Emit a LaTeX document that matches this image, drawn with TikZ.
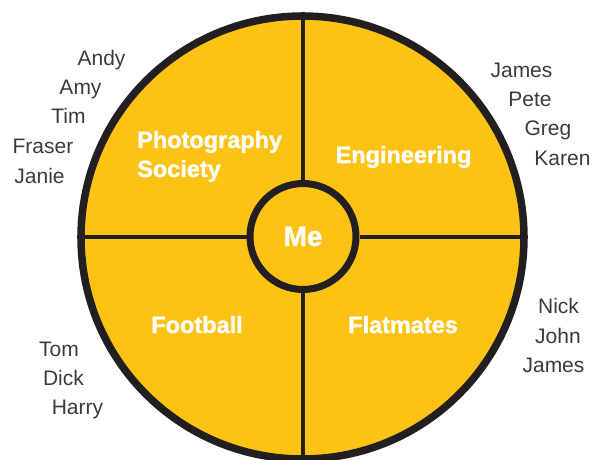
\documentclass[tikz,border=0pt]{standalone}
\usepackage{fontspec}
\setmainfont{Liberation Sans}
\newfontface\heavyfont{Liberation Sans Bold}[FakeBold=1.2]
\usepackage{tikz}
\usetikzlibrary{positioning}
\definecolor{SunYellow}{RGB}{253,195,20}
\definecolor{InkBlack}{RGB}{35,31,32}

\begin{document}
\begin{tikzpicture} [x=1pt, y=-1pt,
       InkBlack, text=InkBlack,
	   every node/.style={inner sep=0pt},
	   ring/.style = {circle, minimum size=#1, line width=7.5pt,
	                  draw=InkBlack, fill=SunYellow},
	   spoke/.style = {line width=4pt, InkBlack},
	   group/.style = {font=\heavyfont\fontsize{23.5}{29}\selectfont, text=white},
	   friend/.style = {font=\fontsize{21}{25}\selectfont, anchor=base, text=InkBlack!88}]
	\useasboundingbox (0,0) rectangle (595,459);

	%% Draw the wheel and its hub
	\node [ring=443pt] (wheel) at (302.5,237.5) {};
	\node [ring=106pt, line width=7pt,
	       font=\heavyfont\fontsize{28}{30}\selectfont, text=white] (me) at (303,236.5) {Me};

	%% Four spokes from the hub to the rim
	\draw[spoke] (me.north) -- (me.north |- wheel.north);
	\draw[spoke] (me.south) -- (me.south |- wheel.south);
	\draw[spoke] (me.west) -- (wheel.west |- me.west);
	\draw[spoke] (me.east) -- (wheel.east |- me.east);

	%% Group labels in the quarters
	\node [group, anchor=base west, align=left] (photo) at (137,177) {Photography\\Society};
	\node [group, anchor=base] (eng) at (403.5,163) {Engineering};
	\node [group, anchor=base] (foot) at (197,333) {Football};
	\node [group, anchor=base] (flat) at (403,333) {Flatmates};

	%% Friends round the rim
	\foreach [count=\i] \n/\x/\y in {Andy/101.5/65, Amy/80.5/94, Tim/68.5/123,
	                                   Fraser/43/153, Janie/39.5/183}
		{\node [friend] (tl\i) at (\x,\y) {\n};}
	\foreach [count=\i] \n/\x/\y in {James/521.5/77, Pete/530/106, Greg/548/135,
	                                   Karen/562.5/165}
		{\node [friend] (tr\i) at (\x,\y) {\n};}
	\foreach [count=\i] \n/\x/\y in {Nick/558.5/313, John/558/343, James/553.5/372}
		{\node [friend] (br\i) at (\x,\y) {\n};}
	\foreach [count=\i] \n/\x/\y in {Tom/59/356, Dick/63.5/385, Harry/77.5/414}
		{\node [friend] (bl\i) at (\x,\y) {\n};}
\end{tikzpicture}
\end{document}
